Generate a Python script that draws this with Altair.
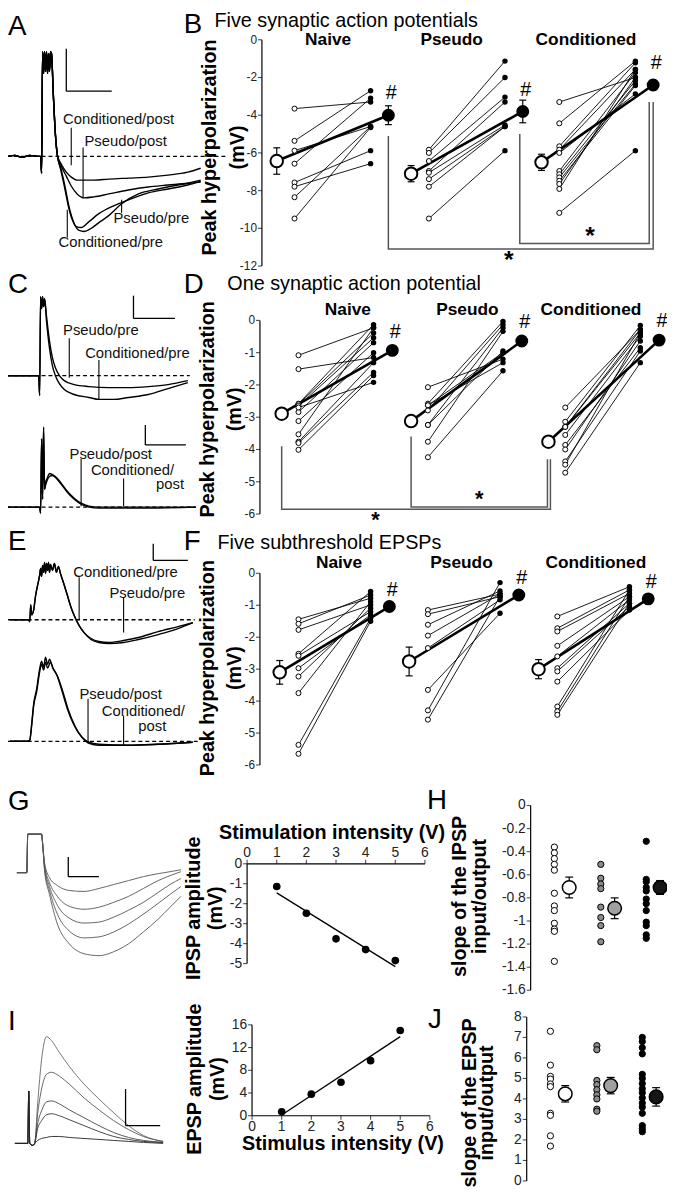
import altair as alt
import pandas as pd

FONT = "Liberation Sans"
W, H = 667, 1183
M = 8  # page margin


def X(px):
    return px - M


def Y(py):
    return py - M

# ---------------- data: panel B (peak hyperpolarization, mV) ----------------
B_NAIVE_PRE = [-3.65, -5.36, -5.88, -6.57, -7.57, -7.79, -8.35, -9.48]
B_NAIVE_POST = [-3.3, -2.7, -4.6, -3.1, -5.88, -6.57, -4.6, -4.65]
B_PSEUDO_PRE = [-5.83, -6.0, -6.43, -6.96, -7.05, -7.39, -7.79, -9.48]
B_PSEUDO_POST = [-1.13, -2.0, -3.04, -3.3, -4.52, -4.6, -4.6, -5.88]
B_COND_PRE = [-3.3, -4.43, -5.65, -5.83, -6.0, -6.96, -7.13, -7.3, -7.48, -7.65, -7.91, -9.18]
B_COND_POST = [-2.0, -1.13, -1.22, -1.57, -2.87, -1.74, -2.17, -2.35, -2.43, -2.0, -1.57, -5.88]
B_MEAN_PRE = [-6.43, -7.1, -6.5]
B_ERR_PRE = [0.7, 0.43, 0.43]
B_MEAN_POST = [-4.0, -3.8, -2.4]
B_ERR_POST = [0.5, 0.6, 0.25]
B_TICKS = [0, -2, -4, -6, -8, -10, -12]

# ---------------- panel D ----------------
D_NAIVE_PRE = [-1.08, -1.51, -2.58, -2.6, -2.65, -2.84, -3.12, -3.53, -3.76, -3.8, -4.01, -2.7]
D_NAIVE_POST = [-0.23, -1.15, -0.13, -0.39, -0.54, -0.69, -1.0, -0.23, -1.31, -1.61, -1.71, -1.92]
D_PSEUDO_PRE = [-2.07, -2.58, -2.63, -2.79, -2.63, -3.24, -3.76, -4.24, -3.24]
D_PSEUDO_POST = [-1.2, -0.03, -1.0, -0.13, -1.31, -0.23, -0.34, -1.56, -0.95]
D_COND_PRE = [-2.7, -3.14, -3.3, -3.55, -3.86, -4.0, -4.37, -4.47, -4.72, -3.3]
D_COND_POST = [-0.29, -0.16, -0.39, -0.49, -0.85, -0.64, -0.95, -0.39, -1.31, -0.29]
D_MEAN_PRE = [-2.89, -3.12, -3.76]
D_ERR_PRE = [0.15, 0.12, 0.04]
D_MEAN_POST = [-0.93, -0.64, -0.61]
D_ERR_POST = [0.08, 0.08, 0.05]
D_TICKS = [0, -1, -2, -3, -4, -5, -6]

# ---------------- panel F ----------------
F_NAIVE_PRE = [-1.44, -1.58, -1.77, -2.52, -2.58, -2.97, -3.23, -3.75, -5.37, -5.65]
F_NAIVE_POST = [-0.78, -0.68, -0.99, -0.57, -1.2, -1.3, -1.09, -0.89, -1.41, -1.5]
F_PSEUDO_PRE = [-1.15, -1.28, -1.61, -1.95, -2.34, -3.65, -4.29, -4.58]
F_PSEUDO_POST = [-0.65, -0.73, -0.55, -0.65, -0.83, -1.25, -0.29, -0.73]
F_COND_PRE = [-1.35, -1.72, -1.82, -2.27, -2.6, -2.97, -3.07, -3.39, -4.17, -4.32, -4.43]
F_COND_POST = [-0.42, -0.52, -0.63, -0.73, -0.83, -0.94, -1.04, -1.15, -0.52, -0.73, -0.94]
F_MEAN_PRE = [-3.1, -2.76, -3.0]
F_ERR_PRE = [0.37, 0.45, 0.3]
F_MEAN_POST = [-1.04, -0.68, -0.8]
F_ERR_POST = [0.05, 0.05, 0.05]
F_TICKS = [0, -1, -2, -3, -4, -5, -6]

GROUPS = ["Naive", "Pseudo", "Conditioned"]

# ---------------- G / I input-output ----------------
G_INTENSITY = [1, 2, 3, 4, 5]
G_IPSP = [-1.14, -2.48, -3.76, -4.3, -4.85]
G_XTICKS = [0, 1, 2, 3, 4, 5, 6]
G_YTICKS = [0, -1, -2, -3, -4, -5]
I_INTENSITY = [1, 2, 3, 4, 5]
I_EPSP = [0.7, 3.8, 5.9, 9.7, 15.0]
I_XTICKS = [0, 1, 2, 3, 4, 5, 6]
I_YTICKS = [0, 4, 8, 12, 16]

# ---------------- H / J slopes ----------------
H_NAIVE = [-0.36, -0.41, -0.46, -0.51, -0.56, -0.76, -0.87, -0.91, -1.02, -1.07, -1.09, -1.35]
H_PSEUDO = [-0.51, -0.63, -0.68, -0.72, -0.88, -0.97, -1.04, -1.18]
H_COND = [-0.31, -0.64, -0.66, -0.71, -0.74, -0.81, -0.85, -0.91, -1.01, -1.04, -1.12, -1.15]
H_MEAN = [-0.71, -0.89, -0.71]
H_ERR = [0.09, 0.09, 0.06]
H_TICKS = [0, -0.2, -0.4, -0.6, -0.8, -1, -1.2, -1.4, -1.6]
J_NAIVE = [7.3, 5.65, 5.1, 4.97, 4.73, 4.6, 3.3, 3.2, 2.2, 1.7]
J_PSEUDO = [6.6, 6.4, 4.9, 4.7, 4.45, 4.2, 4.0, 3.5, 3.4]
J_COND = [7.0, 6.8, 6.5, 6.2, 5.2, 5.0, 4.75, 4.5, 4.3, 4.05, 3.8, 3.6, 3.3, 2.7, 2.55, 2.4]
J_MEAN = [4.25, 4.65, 4.1]
J_ERR = [0.4, 0.4, 0.45]
J_TICKS = [0, 1, 2, 3, 4, 5, 6, 7, 8]

# ---------------- example traces (time, voltage) ----------------
A_HEAD_T = [8, 15, 22, 30, 38, 41, 42, 43, 44, 45, 46, 47, 48, 49, 50, 51, 52, 54, 56, 58]
A_HEAD_V = [0, 1, -1, 1, 0, 0, -17, 106, 84, 106, 86, 106, 84, 104, 86, 106, 104, 60, 22, 1]
A_COND_POST_T = [62, 67, 72, 78, 85, 95, 110, 130, 150, 170, 190, 203]
A_COND_POST_V = [-8, -16, -21, -24, -24, -24, -23, -22, -21, -19, -16, -12]
A_PSEUDO_POST_T = [62, 67, 72, 78, 85, 95, 110, 130, 150, 170, 190, 203]
A_PSEUDO_POST_V = [-10, -20, -30, -38, -42, -41, -38, -34, -31, -29, -27, -24]
A_COND_PRE_T = [61, 65, 69, 73, 77, 82, 90, 100, 115, 130, 150, 170, 190, 203]
A_COND_PRE_V = [-12, -30, -50, -64, -71, -72, -66, -58, -50, -44, -37, -33, -29, -25]
A_PSEUDO_PRE_T = [62, 66, 70, 75, 80, 85, 92, 100, 110, 123, 140, 160, 180, 203]
A_PSEUDO_PRE_V = [-14, -32, -52, -68, -75, -76, -73, -67, -60, -48, -38, -33, -29, -26]

C_HEAD_T = [3, 20, 39, 40, 41, 42, 43, 44, 45]
C_HEAD_V = [0, 0, 0, -20, 80, 68, 80, 70, 78]
C_PSEUDO_PRE_T = [47, 50, 53, 56, 60, 65, 75, 90, 110, 130, 150, 170, 190]
C_PSEUDO_PRE_V = [60, 35, 18, 8, 0, -5, -9, -11, -12, -12, -11, -9, -5]
C_COND_PRE_T = [47, 50, 53, 56, 60, 65, 75, 90, 100, 115, 130, 150, 170, 190]
C_COND_PRE_V = [55, 28, 10, 0, -8, -14, -19, -22, -24, -24, -22, -19, -13, -7]
C2_HEAD_T = [3, 20, 40, 41, 42, 43, 44, 45]
C2_HEAD_V = [0, 0, 0, -6, 69, 8, 81, 18]
C_PSEUDO_POST_T = [46, 48, 50, 53, 57, 62, 68, 75, 82, 90, 100, 150, 198]
C_PSEUDO_POST_V = [25, 30, 34, 33, 30, 24, 16, 9, 4, 1, 0, 0, 0]
C_COND_POST_T = [46, 48, 50, 53, 57, 62, 68, 75, 82, 90, 100, 150, 198]
C_COND_POST_V = [22, 28, 31, 32, 29, 23, 15, 8, 3, 0, -1, -1, 0]

E_HEAD_T = [10, 29, 30, 31, 32, 34, 36, 38, 40, 41, 42, 43, 44, 45, 46, 47, 48, 49, 50, 51, 53, 55, 57, 59, 61]
E_HEAD_V = [0, 0, -2, 15, 5, 10, 25, 35, 45, 52, 44, 55, 48, 58, 47, 57, 50, 58, 48, 56, 50, 57, 48, 54, 47]
E_COND_PRE_T = [64, 68, 72, 76, 80, 85, 92, 100, 110, 125, 140, 160, 180, 195]
E_COND_PRE_V = [38, 25, 12, 2, -6, -13, -19, -22, -23, -21, -18, -12, -7, -3]
E_PSEUDO_PRE_T = [64, 68, 72, 76, 80, 85, 92, 100, 110, 125, 140, 160, 180, 195]
E_PSEUDO_PRE_V = [38, 25, 12, 2, -6, -13, -20, -23, -24, -23, -20, -15, -9, -3]
E_PSEUDO_POST_T = [10, 28, 30, 32, 34, 37, 40, 42, 44, 46, 48, 50, 53, 57, 62, 68, 75, 82, 90, 100, 130, 160, 195]
E_PSEUDO_POST_V = [0, 0, 1, 18, 38, 53, 73, 81, 75, 85, 78, 83, 75, 68, 53, 33, 16, 5, -2, -4, -4, -3, -1]
E_COND_POST_T = [10, 28, 30, 32, 34, 37, 40, 42, 44, 46, 48, 51, 54, 58, 63, 69, 76, 83, 90, 100, 130, 160, 195]
E_COND_POST_V = [0, 0, 1, 16, 36, 50, 70, 78, 72, 80, 74, 80, 73, 66, 52, 32, 15, 4, -1, -3, -4, -3, -1]

G_HEAD_T = [17, 27, 28, 42, 43]
G_HEAD_V = [0, 0, 39, 39, 30]
G_TRACE_T = [45, 50, 58, 70, 85, 100, 115, 130, 145, 160, 172, 183]
G_TRACE1_V = [10, -5, -13, -18, -19, -16, -12, -8, -4, -1, 1, 3]
G_TRACE2_V = [8, -10, -24, -34, -37, -35, -30, -24, -16, -8, -3, 1]
G_TRACE3_V = [6, -14, -33, -46, -51, -50, -45, -38, -30, -20, -12, -6]
G_TRACE4_V = [4, -18, -42, -59, -66, -65, -60, -52, -42, -31, -22, -14]
G_TRACE5_V = [2, -22, -52, -72, -82, -84, -80, -72, -60, -47, -35, -24]

I_HEAD_T = [15, 28, 29, 30, 33, 35]
I_HEAD_V = [0, 0, 53, 0, -2, 0]
I_TRACE_T = [38, 42, 47, 52, 60, 70, 85, 100, 115, 130, 145, 165]
I_TRACE1_V = [40, 85, 108, 104, 92, 78, 60, 45, 31, 18, 8, 2]
I_TRACE2_V = [30, 55, 70, 72, 68, 60, 46, 34, 23, 14, 7, 2]
I_TRACE3_V = [20, 33, 42, 43, 40, 34, 26, 18, 11, 6, 3, 1]
I_TRACE4_V = [15, 23, 29, 30, 28, 24, 18, 12, 7, 4, 2, 1]
I_TRACE5_V = [3, 5, 6, 7, 7, 6, 5, 4, 3, 2, 1, 0]


# ================= helpers =================
def fmt(v):
    return "%g" % v


def txt(text, x, y, size=16, weight="normal", align="left", baseline="alphabetic", angle=0):
    kw = dict(font=FONT, fontSize=size, fontWeight=weight, align=align, baseline=baseline, color="black")
    if angle:
        kw["angle"] = angle
    return alt.Chart(pd.DataFrame({"t": [text]})).mark_text(**kw).encode(
        x=alt.value(X(x)), y=alt.value(Y(y)), text="t:N")


def ytitle(lines, xs_px, y_px, size=20):
    return [txt(s, x, y_px, size, "bold", "center", "middle", 270) for s, x in zip(lines, xs_px)]


def seg_layer(segs, xs, ys, color="black", sw=1.0, dash=None):
    df = pd.DataFrame(segs, columns=["a", "b", "c", "d"])
    kw = dict(color=color, strokeWidth=sw)
    if dash:
        kw["strokeDash"] = dash
    return alt.Chart(df).mark_rule(**kw).encode(
        x=alt.X("a:Q", scale=xs, axis=None), y=alt.Y("b:Q", scale=ys, axis=None), x2="c:Q", y2="d:Q"
    )


def axis_layers(xs, ys, kind, at, ticks, size=13):
    enc_x = alt.X("x:Q", scale=xs, axis=None)
    enc_y = alt.Y("y:Q", scale=ys, axis=None)
    labs = [fmt(t) for t in ticks]
    if kind == "left":
        dom = seg_layer([(at, min(ticks), at, max(ticks))], xs, ys, sw=1.2)
        df = pd.DataFrame({"x": [at] * len(ticks), "y": ticks, "lab": labs})
        tk = alt.Chart(df).mark_tick(orient="horizontal", size=4, thickness=1.1, xOffset=-2, color="black")
        lb = alt.Chart(df).mark_text(font=FONT, fontSize=size, align="right", baseline="middle", dx=-5,
                                     color="#222")
    else:
        dom = seg_layer([(min(ticks), at, max(ticks), at)], xs, ys, sw=1.2)
        df = pd.DataFrame({"x": ticks, "y": [at] * len(ticks), "lab": labs})
        top = kind == "top"
        tk = alt.Chart(df).mark_tick(orient="vertical", size=4, thickness=1.1, yOffset=-2 if top else 2,
                                     color="black")
        lb = alt.Chart(df).mark_text(font=FONT, fontSize=size, align="center",
                                     baseline="bottom" if top else "top", dy=-4 if top else 4, color="#222")
    return [dom, tk.encode(x=enc_x, y=enc_y), lb.encode(x=enc_x, y=enc_y, text="lab:N")]


def trace_panel(traces, span, base_y, vlo, vhi, color="black", sw=1.4, dash=None,
                bars=(), pointers=(), labels=()):
    xs = alt.Scale(domain=[0, span], range=[X(0), X(span)], nice=False, zero=False)
    ys = alt.Scale(domain=[vlo, vhi], range=[Y(base_y - vlo), Y(base_y - vhi)], nice=False, zero=False)
    layers = []
    if dash:
        layers.append(seg_layer([dash], xs, ys, sw=1.3, dash=[4, 3]))
    for name, (ts, vs, c) in traces.items():
        df = pd.DataFrame({"i": list(range(len(ts))), "t": ts, "v": vs})
        layers.append(alt.Chart(df).mark_line(
            color=c or color, strokeWidth=sw, interpolate="monotone").encode(
            x=alt.X("t:Q", scale=xs, axis=None), y=alt.Y("v:Q", scale=ys, axis=None), order="i:Q"))
    if bars:
        layers.append(seg_layer(list(bars), xs, ys, sw=1.3))
    if pointers:
        layers.append(seg_layer(list(pointers), xs, ys, sw=1.1))
    if labels:
        ldf = pd.DataFrame(labels, columns=["t", "v", "s"])
        layers.append(alt.Chart(ldf).mark_text(font=FONT, fontSize=15, align="center", baseline="middle",
                                                color="#111").encode(
            x=alt.X("t:Q", scale=xs, axis=None), y=alt.Y("v:Q", scale=ys, axis=None), text="s:N"))
    return alt.layer(*layers)


def paired_panel(pre, post, mpre, epre, mpost, epost, L, ticks, brackets=(), stars=(), star_size=25):
    ax = L["axis"]
    xs = alt.Scale(domain=[0, 420], range=[X(ax), X(ax + 420)], nice=False, zero=False)
    ys = alt.Scale(domain=[L["ymin"], 0], range=[Y(L["ymin_px"]), Y(L["y0"])], nice=False, zero=False)
    o = L["off"]
    seg, ipre, ipost, mline, mp, mq, err = [], [], [], [], [], [], []
    for g in range(3):
        b = L["bases"][g]
        for i, (a, c) in enumerate(zip(pre[g], post[g])):
            sid = f"{g}-{i}"
            seg += [dict(id=sid, k=0, x=b + o[1], y=a), dict(id=sid, k=1, x=b + o[2], y=c)]
            ipre.append(dict(x=b + o[1], y=a))
            ipost.append(dict(x=b + o[2], y=c))
        mline += [dict(id=g, k=0, x=b + o[0], y=mpre[g]), dict(id=g, k=1, x=b + o[3], y=mpost[g])]
        mp.append(dict(x=b + o[0], y=mpre[g]))
        mq.append(dict(x=b + o[3], y=mpost[g], lab="#"))
        for xx, m, e in ((b + o[0], mpre[g], epre[g]), (b + o[3], mpost[g], epost[g])):
            err += [(xx, m - e, xx, m + e), (xx - 3.5, m - e, xx + 3.5, m - e), (xx - 3.5, m + e, xx + 3.5, m + e)]

    def ch(rows):
        return alt.Chart(pd.DataFrame(rows))

    xe = alt.X("x:Q", scale=xs, axis=None)
    ye = alt.Y("y:Q", scale=ys, axis=None)
    layers = axis_layers(xs, ys, "left", 0, ticks, 12)
    layers.append(ch(seg).mark_line(color="black", strokeWidth=0.9).encode(x=xe, y=ye, detail="id:N", order="k:Q"))
    layers.append(ch(mline).mark_line(color="black", strokeWidth=2.6).encode(x=xe, y=ye, detail="id:N", order="k:Q"))
    layers.append(ch(ipre).mark_circle(size=26, fill="white", stroke="black", strokeWidth=1, opacity=1).encode(x=xe, y=ye))
    layers.append(ch(ipost).mark_circle(size=30, color="black", opacity=1).encode(x=xe, y=ye))
    layers.append(seg_layer(err, xs, ys, sw=1.2))
    layers.append(ch(mp).mark_circle(size=160, fill="white", stroke="black", strokeWidth=2, opacity=1).encode(x=xe, y=ye))
    layers.append(ch(mq).mark_circle(size=170, color="black", opacity=1).encode(x=xe, y=ye))
    layers.append(ch(mq).mark_text(font=FONT, fontSize=20, dx=3, dy=L["hash_dy"], color="black").encode(
        x=xe, y=ye, text="lab:N"))
    gl = [dict(x=L["lab_x"][g], s=GROUPS[g]) for g in range(3)]
    layers.append(ch(gl).mark_text(font=FONT, fontSize=17.5, fontWeight="bold", baseline="middle", color="black").encode(
        x=xe, y=alt.value(Y(L["lab_px"])), text="s:N"))
    if brackets:
        br = []
        for j, pts in enumerate(brackets):
            for k, (bx, by) in enumerate(pts):
                br.append(dict(id=j, k=k, x=bx, y=by))
        layers.append(ch(br).mark_line(color="#555", strokeWidth=1.5).encode(x=xe, y=ye, detail="id:N", order="k:Q"))
    if stars:
        st = [dict(x=sx, y=sy, s="*") for sx, sy in stars]
        layers.append(ch(st).mark_text(font=FONT, fontSize=star_size, fontWeight="bold", baseline="middle",
                                       color="black").encode(x=xe, y=ye, text="s:N"))
    return alt.layer(*layers)


def io_panel(xv, yv, x0px, x6px, y_lo, y_lo_px, y_hi, y_hi_px, xkind, xticks, yticks):
    xs = alt.Scale(domain=[0, 6], range=[X(x0px), X(x6px)], nice=False, zero=False)
    ys = alt.Scale(domain=[y_lo, y_hi], range=[Y(y_lo_px), Y(y_hi_px)], nice=False, zero=False)
    df = pd.DataFrame({"x": xv, "y": yv})
    enc = dict(x=alt.X("x:Q", scale=xs, axis=None), y=alt.Y("y:Q", scale=ys, axis=None))
    layers = axis_layers(xs, ys, "left", 0, yticks, 14) + axis_layers(xs, ys, xkind, 0, xticks, 14)
    layers.append(alt.Chart(df).transform_regression("x", "y", extent=[1, 5]).mark_line(
        color="black", strokeWidth=1.3).encode(**enc))
    layers.append(alt.Chart(df).mark_circle(size=60, color="black", opacity=1).encode(**enc))
    return alt.layer(*layers)


def dot_panel(groups, means, errs, ax, lo, lo_px, hi, hi_px, ticks):
    xs = alt.Scale(domain=[0, 150], range=[X(ax), X(ax + 150)], nice=False, zero=False)
    ys = alt.Scale(domain=[lo, hi], range=[Y(lo_px), Y(hi_px)], nice=False, zero=False)
    enc = dict(x=alt.X("x:Q", scale=xs, axis=None), y=alt.Y("y:Q", scale=ys, axis=None))
    dot_x = [24, 71, 117]
    mean_x = [39, 85, 131]
    fills = ["white", "#8a8a8a", "black"]
    mfills = ["white", "#a0a0a0", "#151515"]
    layers = axis_layers(xs, ys, "left", 0, ticks, 14)
    for g in range(3):
        d = pd.DataFrame({"x": [dot_x[g]] * len(groups[g]), "y": groups[g]})
        layers.append(alt.Chart(d).mark_circle(size=40, fill=fills[g], stroke="black", strokeWidth=1,
                                               opacity=1).encode(**enc))
    segs = []
    for g in range(3):
        m, e, xx = means[g], errs[g], mean_x[g]
        segs += [(xx, m - e, xx, m + e), (xx - 4, m - e, xx + 4, m - e), (xx - 4, m + e, xx + 4, m + e)]
    layers.append(seg_layer(segs, xs, ys, sw=1.2))
    for g in range(3):
        d = pd.DataFrame({"x": [mean_x[g]], "y": [means[g]]})
        layers.append(alt.Chart(d).mark_circle(size=190, fill=mfills[g], stroke="black", strokeWidth=1.5,
                                               opacity=1).encode(**enc))
    return alt.layer(*layers)


# ================= panels =================
panA = trace_panel(
    {"cp": (A_HEAD_T + A_COND_POST_T, A_HEAD_V + A_COND_POST_V, None),
     "pp": (A_HEAD_T + A_PSEUDO_POST_T, A_HEAD_V + A_PSEUDO_POST_V, None),
     "cr": (A_HEAD_T + A_COND_PRE_T, A_HEAD_V + A_COND_PRE_V, None),
     "pr": (A_HEAD_T + A_PSEUDO_PRE_T, A_HEAD_V + A_PSEUDO_PRE_V, None)},
    230, 151, -100, 110, dash=(0, 0, 230, 0),
    bars=[(67, 109, 67, 66), (67, 66, 113, 66)],
    pointers=[(72, 29, 72, -9), (84, 9, 84, -42), (123, -44, 123, -57), (68, -54, 68, -82)],
    labels=[(120, 38, "Conditioned/post"), (127, 16, "Pseudo/post"), (153, -62, "Pseudo/pre"),
            (112, -87, "Conditioned/pre")])

panC1 = trace_panel(
    {"pr": (C_HEAD_T + C_PSEUDO_PRE_T, C_HEAD_V + C_PSEUDO_PRE_V, None),
     "cr": (C_HEAD_T + C_COND_PRE_T, C_HEAD_V + C_COND_PRE_V, None)},
    200, 373, -40, 90, dash=(0, 0, 192, 0),
    bars=[(135, 81, 135, 58), (135, 58, 177, 58)],
    pointers=[(70, 38, 70, -2), (100, 16, 100, -24)],
    labels=[(102, 46, "Pseudo/pre"), (139, 23, "Conditioned/pre")])

panC2 = trace_panel(
    {"pp": (C2_HEAD_T + C_PSEUDO_POST_T, C2_HEAD_V + C_PSEUDO_POST_V, None),
     "cp": (C2_HEAD_T + C_COND_POST_T, C2_HEAD_V + C_COND_POST_V, None)},
    200, 506, -20, 90, dash=(0, 0, 198, 0),
    bars=[(147, 83, 147, 63), (147, 63, 188, 63)],
    pointers=[(82, 49, 82, 1), (125, 29, 125, 1)],
    labels=[(112, 54, "Pseudo/post"), (134, 38, "Conditioned/"), (172, 23, "post")])

panE1 = trace_panel(
    {"cr": (E_HEAD_T + E_COND_PRE_T, E_HEAD_V + E_COND_PRE_V, None),
     "pr": (E_HEAD_T + E_PSEUDO_PRE_T, E_HEAD_V + E_PSEUDO_PRE_V, None)},
    200, 620, -40, 90, dash=(0, 0, 197, 0),
    bars=[(155, 77, 155, 60), (155, 60, 190, 60)],
    pointers=[(80, 43, 80, 0), (125, 22, 125, -13)],
    labels=[(127, 48, "Conditioned/pre"), (149, 27, "Pseudo/pre")])

panE2 = trace_panel(
    {"pp": (E_PSEUDO_POST_T, E_PSEUDO_POST_V, None),
     "cp": (E_COND_POST_T, E_COND_POST_V, None)},
    200, 743, -20, 100, dash=(0, 0, 200, 0),
    pointers=[(89, 43, 89, -2), (125, 26, 125, -4)],
    labels=[(122, 48, "Pseudo/post"), (145, 31, "Conditioned/"), (154, 15, "post")])

panG = trace_panel(
    {f"g{k}": (G_HEAD_T + G_TRACE_T, G_HEAD_V + v, None)
     for k, v in enumerate([G_TRACE1_V, G_TRACE2_V, G_TRACE3_V, G_TRACE4_V, G_TRACE5_V])},
    200, 876, -100, 50, color="#555", sw=0.9,
    bars=[(69, 16, 69, -4), (69, -4, 100, -4)])

panI = trace_panel(
    {f"i{k}": (I_HEAD_T + I_TRACE_T, I_HEAD_V + v, c)
     for k, (v, c) in enumerate([(I_TRACE1_V, "#666"), (I_TRACE2_V, "#555"), (I_TRACE3_V, "#444"),
                                 (I_TRACE4_V, "#333"), (I_TRACE5_V, "#222")])},
    200, 1150, -20, 120, sw=0.9,
    bars=[(127, 55, 127, 18), (127, 18, 162, 18)])

B_L = dict(axis=265, y0=33, ymin=-12, ymin_px=262, bases=[0, 136, 268], off=[15, 33, 110, 128],
           lab_x=[67, 192, 328], lab_px=33, hash_dy=-22)
D_L = dict(axis=263, y0=317, ymin=-6, ymin_px=513, bases=[0, 131, 270], off=[22, 39, 115, 134],
           lab_x=[89, 210, 335], lab_px=307, hash_dy=-19)
F_L = dict(axis=263, y0=573, ymin=-6, ymin_px=767, bases=[0, 131, 262], off=[20, 39, 112, 131],
           lab_x=[80, 204, 340], lab_px=563, hash_dy=-17)

panB = paired_panel([B_NAIVE_PRE, B_PSEUDO_PRE, B_COND_PRE], [B_NAIVE_POST, B_PSEUDO_POST, B_COND_POST],
                    B_MEAN_PRE, B_ERR_PRE, B_MEAN_POST, B_ERR_POST, B_L, B_TICKS,
                    brackets=[[(128, -5.1), (128, -11.1), (396, -11.1), (396, -3.3)],
                              [(261, -5.0), (261, -10.8), (392, -10.8), (392, -3.3)]],
                    stars=[(250, -11.7), (332, -10.4)])
panD = paired_panel([D_NAIVE_PRE, D_PSEUDO_PRE, D_COND_PRE], [D_NAIVE_POST, D_PSEUDO_POST, D_COND_POST],
                    D_MEAN_PRE, D_ERR_PRE, D_MEAN_POST, D_ERR_POST, D_L, D_TICKS,
                    brackets=[[(22, -3.9), (22, -5.85), (294, -5.85), (294, -4.3)],
                              [(153, -3.6), (153, -5.78), (291, -5.78), (291, -4.3)]],
                    stars=[(117, -6.18), (222, -5.55)], star_size=22)
panF = paired_panel([F_NAIVE_PRE, F_PSEUDO_PRE, F_COND_PRE], [F_NAIVE_POST, F_PSEUDO_POST, F_COND_POST],
                    F_MEAN_PRE, F_ERR_PRE, F_MEAN_POST, F_ERR_POST, F_L, F_TICKS)

panGio = io_panel(G_INTENSITY, G_IPSP, 250, 430, -5, 968, 0, 867, "top", G_XTICKS, G_YTICKS)
panIio = io_panel(I_INTENSITY, I_EPSP, 255, 435, 0, 1122, 16, 1030, "bottom", I_XTICKS, I_YTICKS)

panH = dot_panel([H_NAIVE, H_PSEUDO, H_COND], H_MEAN, H_ERR, 537, -1.6, 995, 0, 808, H_TICKS)
panJ = dot_panel([J_NAIVE, J_PSEUDO, J_COND], J_MEAN, J_ERR, 533, 0, 1188, 8, 1022, J_TICKS)

texts = [
    txt("A", 8, 28, 28), txt("B", 186, 26, 28), txt("Five synaptic action potentials", 217, 20, 20),
    txt("C", 8, 289, 28), txt("D", 186, 289, 28), txt("One synaptic action potential", 230, 286, 20),
    txt("E", 8, 549, 28), txt("F", 186, 549, 28), txt("Five subthreshold EPSPs", 220, 548.5, 20),
    txt("G", 8, 813, 28), txt("H", 432, 812, 28),
    txt("I", 8, 1035, 28), txt("J", 433, 1033, 28),
    txt("Stimulation intensity (V)", 336, 836, 20, "bold", "center", "middle"),
    txt("Stimulus intensity (V)", 347, 1151, 20, "bold", "center", "middle"),
]
texts += ytitle(["Peak hyperpolarization", "(mV)"], [213, 241], 142)
texts += ytitle(["Peak hyperpolarization", "(mV)"], [210, 238], 407)
texts += ytitle(["Peak hyperpolarization", "(mV)"], [210, 238], 669)
texts += ytitle(["IPSP amplitude", "(mV)"], [196, 219], 912)
texts += ytitle(["EPSP amplitude", "(mV)"], [197, 221], 1085)
texts += ytitle(["slope of the IPSP", "input/output"], [466, 486], 900)
texts += ytitle(["slope of the EPSP", "input/output"], [476, 493], 1109)

chart = alt.layer(
    panA, panB, panC1, panC2, panD, panE1, panE2, panF, panG, panGio, panH, panI, panIio, panJ, *texts
).resolve_scale(x="independent", y="independent").properties(
    width=W, height=H, autosize=alt.AutoSizeParams(type="none"), padding=0
).configure_view(stroke=None)

chart.save("out.html", embed_options={"renderer": "svg", "actions": False})
